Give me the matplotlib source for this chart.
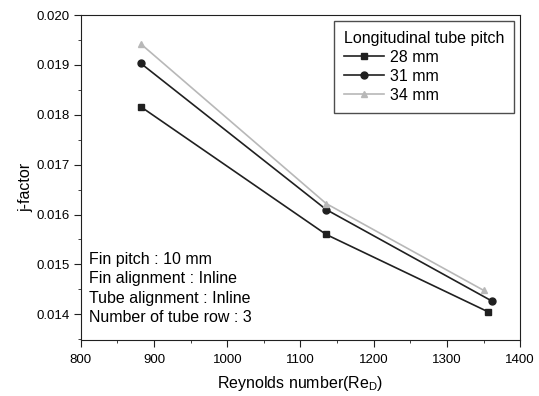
import numpy as np
import matplotlib.pyplot as plt
from matplotlib.ticker import MultipleLocator

plt.rcParams['font.family'] = ['Liberation Sans', 'DejaVu Sans']

# data
re_28 = [882, 1135, 1356]
j_28 = [0.01816, 0.01560, 0.01405]
re_31 = [882, 1135, 1362]
j_31 = [0.01903, 0.01610, 0.01426]
re_34 = [882, 1135, 1350]
j_34 = [0.01942, 0.01622, 0.01448]
labels = ['28 mm', '31 mm', '34 mm']

fig = plt.figure(figsize=(5.39, 3.96), dpi=100)
ax = fig.add_axes([0.150, 0.141, 0.815, 0.821])

ax.plot(re_28, j_28, color='#202020', marker='s', markersize=5, lw=1.2, label=labels[0])
ax.plot(re_31, j_31, color='#202020', marker='o', markersize=5, lw=1.2, label=labels[1])
ax.plot(re_34, j_34, color='#b8b8b8', marker='^', markersize=5, lw=1.2, label=labels[2])

ax.set_xlim(800, 1400)
ax.set_ylim(0.01348, 0.020)
ax.xaxis.set_major_locator(MultipleLocator(100))
ax.xaxis.set_minor_locator(MultipleLocator(50))
ax.yaxis.set_major_locator(MultipleLocator(0.001))
ax.yaxis.set_minor_locator(MultipleLocator(0.0005))
ax.yaxis.set_major_formatter(plt.FormatStrFormatter('%.3f'))
ax.tick_params(which='major', direction='out', length=5, labelsize=9.5, color='#202020', pad=3)
ax.tick_params(axis='x', which='major', pad=5)
ax.tick_params(which='minor', direction='out', length=2.5, color='#202020')
ax.tick_params(top=False, right=False)
for s in ax.spines.values():
    s.set_color('#202020')

ax.set_xlabel('Reynolds number(Re$_\\mathregular{D}$)', fontsize=11.5, labelpad=6)
ax.set_ylabel('j-factor', fontsize=11.5)
ax.yaxis.set_label_coords(-0.108, 0.47)

leg = ax.legend(title='Longitudinal tube pitch', loc='upper right', fontsize=11.5,
                title_fontsize=11.5, fancybox=False, edgecolor='#202020',
                handlelength=2.5, handletextpad=0.37, borderpad=0.6, labelspacing=0.25,
                borderaxespad=0.4)
leg.get_frame().set_linewidth(1.0)
leg._legend_box.align = 'left'

ax.text(0.018, 0.047, 'Fin pitch : 10 mm\nFin alignment : Inline\nTube alignment : Inline\nNumber of tube row : 3',
        transform=ax.transAxes, fontsize=11.5, va='bottom', ha='left', linespacing=1.35)

plt.savefig('out.png', dpi=100)
